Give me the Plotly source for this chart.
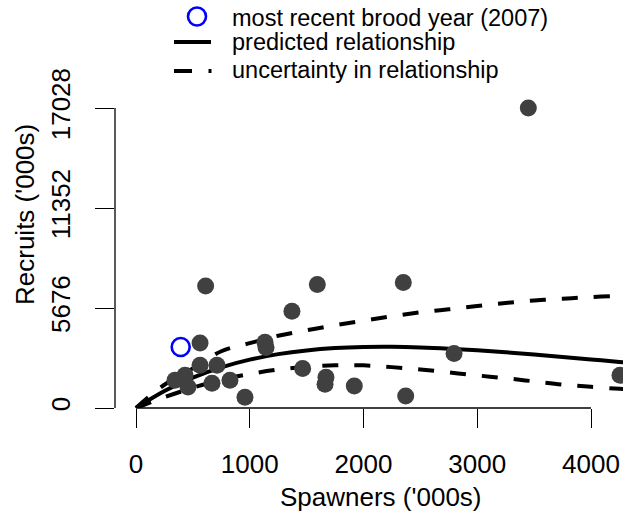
import plotly.graph_objects as go

# ---- data ----
spawners = [343, 431, 457, 563, 712, 668, 826, 563, 612, 958, 1134, 1143, 1371,
            1465, 1594, 1670, 1662, 1919, 2350, 2371, 2796, 3449, 4255]
recruits = [1572, 1856, 1192, 2424, 2424, 1400, 1572, 3690, 6925, 607, 3730, 3440,
            5490, 2236, 7005, 1743, 1345, 1249, 7118, 681, 3088, 17028, 1856]
recent_spawners = [393]
recent_recruits = [3462]

curve_s = [0, 250, 500, 750, 1000, 1250, 1500, 1750, 2000, 2250, 2500, 2750,
           3000, 3250, 3500, 3750, 4000, 4250, 4300]
predicted = [0, 969, 1727, 2310, 2745, 3057, 3269, 3400, 3463, 3473, 3439, 3370,
             3277, 3164, 3037, 2900, 2758, 2610, 2580]
lower = [0, 610, 1150, 1600, 1930, 2180, 2340, 2420, 2420, 2320, 2190, 2020,
         1850, 1690, 1510, 1330, 1200, 1090, 1070]
upper = [0, 1320, 2250, 3220, 3680, 4100, 4410, 4700, 4960, 5210, 5430, 5600,
         5790, 5960, 6100, 6200, 6300, 6370, 6380]

x_ticks = [0, 1000, 2000, 3000, 4000]
y_ticks = [0, 5676, 11352, 17028]
legend_labels = ["most recent brood year (2007)", "predicted relationship",
                 "uncertainty in relationship"]

# ---- layout geometry (pixels) ----
W, H = 623, 515
L, R, T, B = 115, 0, 90, 107
PW, PH = W - L - R, H - T - B
FONT = "Liberation Sans, Arial, Helvetica, sans-serif"
GRAY = "#404040"


def px(x):
    return (x - L) / PW


def py(y):
    return (H - B - y) / PH


fig = go.Figure()

for ys in (upper, lower):
    fig.add_trace(go.Scatter(x=curve_s, y=ys, mode="lines", showlegend=False,
                             line=dict(color="black", width=4, dash="16px,16px",
                                       shape="spline"), hoverinfo="skip"))
fig.add_trace(go.Scatter(x=curve_s, y=predicted, mode="lines", showlegend=False,
                         line=dict(color="black", width=4, shape="spline"),
                         hoverinfo="skip"))
fig.add_trace(go.Scatter(x=spawners, y=recruits, mode="markers", showlegend=False,
                         marker=dict(color=GRAY, size=17, line=dict(width=0))))
fig.add_trace(go.Scatter(x=recent_spawners, y=recent_recruits, mode="markers",
                         showlegend=False,
                         marker=dict(symbol="circle-open", color="#0000FF", size=18,
                                     line=dict(width=2.6, color="#0000FF"))))

shapes = [
    # R-style axis lines spanning only the tick range
    dict(type="line", xref="x", yref="paper", x0=0, x1=4000, y0=0, y1=0,
         line=dict(color="black", width=1.3)),
    dict(type="line", xref="paper", yref="y", x0=0, x1=0, y0=0, y1=17028,
         line=dict(color="black", width=1.3)),
    # legend symbols
    dict(type="circle", xref="paper", yref="paper", xsizemode="pixel",
         ysizemode="pixel", xanchor=px(197), yanchor=py(16.5), x0=-9, x1=9,
         y0=-9, y1=9, line=dict(color="#0000FF", width=2.6)),
    dict(type="line", xref="paper", yref="paper", x0=px(174), x1=px(211),
         y0=py(42), y1=py(42), line=dict(color="black", width=4)),
    dict(type="line", xref="paper", yref="paper", x0=px(174), x1=px(192),
         y0=py(71), y1=py(71), line=dict(color="black", width=4)),
    dict(type="line", xref="paper", yref="paper", x0=px(208.5), x1=px(211.5),
         y0=py(71), y1=py(71), line=dict(color="black", width=4)),
]

annotations = []
for label, yy in zip(legend_labels, [17.5, 42.5, 70.5]):
    annotations.append(dict(text=label, xref="paper", yref="paper", x=px(230),
                            y=py(yy), xanchor="left", yanchor="middle",
                            showarrow=False,
                            font=dict(family=FONT, size=23.5, color="black")))
annotations.append(dict(text="Spawners ('000s)", xref="paper", yref="paper",
                        x=px(381), y=py(497), xanchor="center", yanchor="middle",
                        showarrow=False, font=dict(family=FONT, size=26, color="black")))
annotations.append(dict(text="Recruits ('000s)", xref="paper", yref="paper",
                        x=px(25), y=py(215), xanchor="center", yanchor="middle",
                        textangle=-90, showarrow=False,
                        font=dict(family=FONT, size=26, color="black")))

fig.update_layout(
    width=W, height=H,
    margin=dict(l=L, r=R, t=T, b=B, pad=0),
    paper_bgcolor="white", plot_bgcolor="white",
    showlegend=False,
    shapes=shapes, annotations=annotations,
    font=dict(family=FONT, size=26, color="black"),
    xaxis=dict(range=[-184.6, 4281.3], tickmode="array", tickvals=x_ticks,
               ticktext=[str(v) for v in x_ticks], ticks="outside", ticklen=19,
               tickwidth=1.3, tickcolor="black", showgrid=False, zeroline=False,
               showline=False, ticklabelstandoff=14, automargin=False,
               tickfont=dict(family=FONT, size=26, color="black")),
    yaxis=dict(range=[0, 18050], tickmode="array", tickvals=y_ticks,
               ticktext=[str(v) for v in y_ticks], ticks="outside", ticklen=19,
               tickwidth=1.3, tickcolor="black", showgrid=False, zeroline=False,
               showline=False, tickangle=-90, ticklabelstandoff=15, automargin=False,
               tickfont=dict(family=FONT, size=26, color="black")),
)

fig.write_html("out.html", config={"displayModeBar": False},
               post_script="document.body.style.margin='0';"
                           "document.body.style.padding='0';")
